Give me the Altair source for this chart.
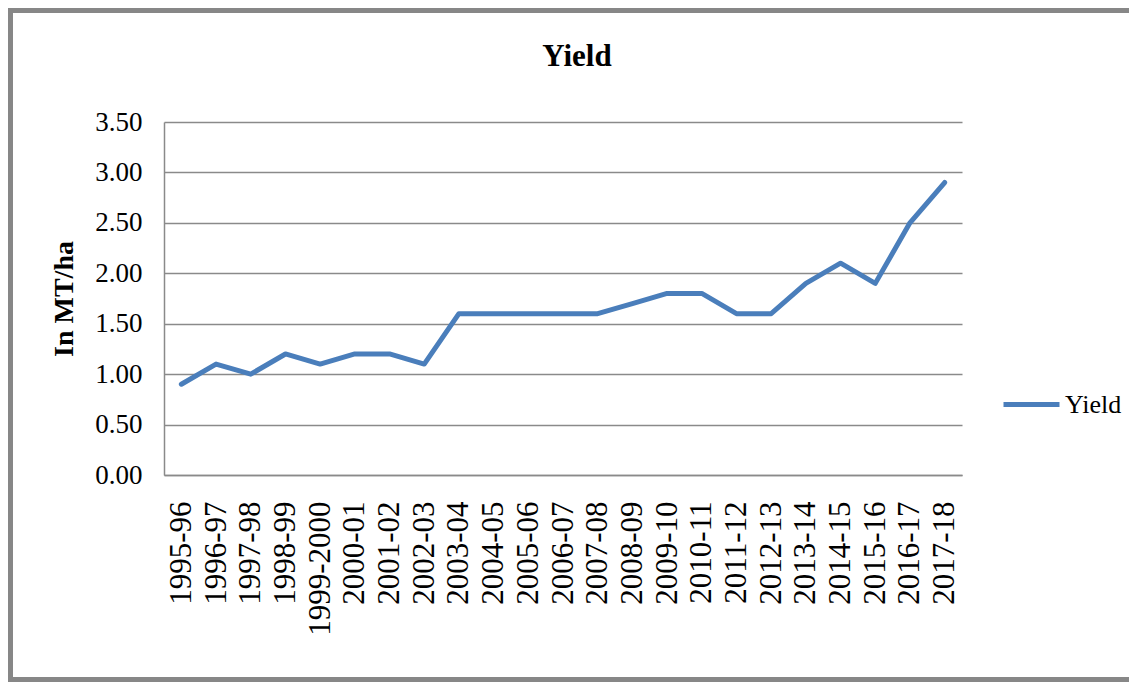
import altair as alt
import pandas as pd

years = ["1995-96", "1996-97", "1997-98", "1998-99", "1999-2000", "2000-01",
         "2001-02", "2002-03", "2003-04", "2004-05", "2005-06", "2006-07",
         "2007-08", "2008-09", "2009-10", "2010-11", "2011-12", "2012-13",
         "2013-14", "2014-15", "2015-16", "2016-17", "2017-18"]
yield_vals = [0.9, 1.1, 1.0, 1.2, 1.1, 1.2, 1.2, 1.1, 1.6, 1.6, 1.6, 1.6,
              1.6, 1.7, 1.8, 1.8, 1.6, 1.6, 1.9, 2.1, 1.9, 2.5, 2.9]
y_ticks = [0, 0.5, 1.0, 1.5, 2.0, 2.5, 3.0, 3.5]
chart_title = "Yield"

df = pd.DataFrame({"year": years, "value": yield_vals, "series": "Yield"})

FONT = "Liberation Serif"
GRID = "#8a8a8a"
W, H = 798, 353
PL, PT = 156, 114
TOTW, TOTH = 1121, 674

line = alt.Chart(df).mark_line(strokeWidth=5, strokeJoin="round", strokeCap="round").encode(
    x=alt.X("year:N", sort=years, title=None,
            axis=alt.Axis(labelAngle=-90, labelFont=FONT, labelFontSize=31,
                          labelColor="black", labelPadding=26, ticks=False,
                          domainColor=GRID, domainWidth=1.5, grid=False,
                          labelOverlap=False)),
    y=alt.Y("value:Q", title="In MT/ha",
            scale=alt.Scale(domain=[0, 3.5], nice=False),
            axis=alt.Axis(values=y_ticks, format=".2f", labelFont=FONT,
                          labelFontSize=27, labelColor="black", labelPadding=22,
                          ticks=False, domainColor=GRID, domainWidth=1.5,
                          gridColor=GRID, gridWidth=1.5, titleFont=FONT,
                          titleFontSize=28, titleFontWeight="bold",
                          titleColor="black", titlePadding=16)),
    color=alt.Color("series:N",
                    scale=alt.Scale(domain=["Yield"], range=["#4A7EBB"]),
                    legend=alt.Legend(title=None, orient="none", legendX=837,
                                      legendY=252, symbolType="stroke",
                                      symbolSize=3136, symbolStrokeWidth=5,
                                      labelFont=FONT, labelFontSize=26,
                                      labelColor="black", labelOffset=3)),
)

one = pd.DataFrame({"t": [chart_title]})
title_mark = alt.Chart(one).mark_text(font=FONT, fontSize=31, fontWeight="bold",
                                      color="black", align="center",
                                      baseline="alphabetic").encode(
    text="t:N", x=alt.value(577 - 8 - PL), y=alt.value(66 - 8 - PT))

frame_top = alt.Chart(one).mark_rule(color="#878787", strokeWidth=5).encode(
    x=alt.value(-PL), x2=alt.value(TOTW - PL), y=alt.value(-PT + 2.5))
frame_left = alt.Chart(one).mark_rule(color="#878787", strokeWidth=5).encode(
    x=alt.value(-PL + 2.5), y=alt.value(-PT), y2=alt.value(TOTH - PT))
frame_bottom = alt.Chart(one).mark_rule(color="#878787", strokeWidth=5).encode(
    x=alt.value(-PL), x2=alt.value(TOTW - PL), y=alt.value(TOTH - PT - 2.5))

chart = alt.layer(line, title_mark, frame_top, frame_left, frame_bottom).properties(
    width=W, height=H,
    autosize=alt.AutoSizeParams(type="none"),
    padding={"left": PL, "top": PT, "right": TOTW - PL - W, "bottom": TOTH - PT - H},
    background="white",
).configure_view(stroke=None)

chart.save("out.html", embed_options={"renderer": "svg", "actions": False})
